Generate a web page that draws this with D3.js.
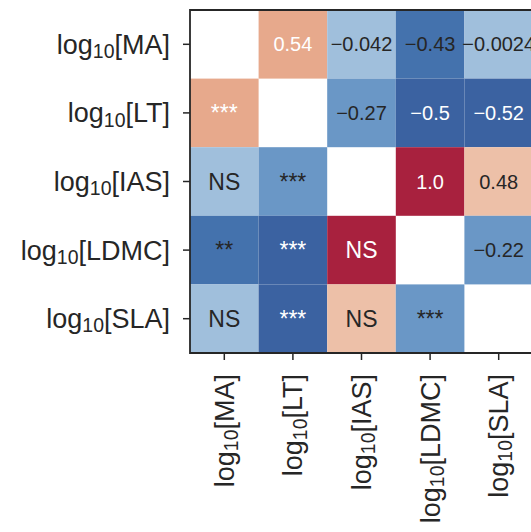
<!DOCTYPE html>
<html>
<head>
<meta charset="utf-8">
<script src="https://cdn.jsdelivr.net/npm/d3@7"></script>
<style>
  body { margin: 0; background: #fff; }
  text { font-family: "Liberation Sans", Arial, sans-serif; }
</style>
</head>
<body>
<script>
//traits on both axes
var traits = ["MA", "LT", "IAS", "LDMC", "SLA"];

//upper triangle: correlation coefficients, row by row
var corrRows = [
    [null, 0.54, -0.042, -0.43, -0.0024],
    [0.54, null, -0.27, -0.5, -0.52],
    [-0.042, -0.27, null, 1.0, 0.48],
    [-0.43, -0.5, 1.0, null, -0.22],
    [-0.0024, -0.52, 0.48, -0.22, null]
];

//lower triangle: significance labels
var sigRows = [
    [null, null, null, null, null],
    ["***", null, null, null, null],
    ["NS", "***", null, null, null],
    ["**", "***", "NS", null, null],
    ["NS", "***", "NS", "***", null]
];

//binned colours and the value breaks between them
var colorBreaks = [-0.45, -0.3, -0.1, 0, 0.5, 0.75];
var colorBins = ["#3b62a1", "#4472ad", "#6a97c6", "#a0bfdc", "#edc0a8", "#e7a98c", "#a8213e"];

var width = 531,
    height = 532;

var svg = d3.select("body")
    .append("svg")
    .attr("width", width)
    .attr("height", height);

var x = d3.scaleBand().domain(traits).range([190, 533]);
var y = d3.scaleBand().domain(traits).range([10, 353]);
var color = d3.scaleThreshold().domain(colorBreaks).range(colorBins);

//flatten the matrix into cells
var cells = [];
traits.forEach(function(r, i){
    traits.forEach(function(c, j){
        if (i == j) return;
        cells.push({row: r, col: c, value: corrRows[i][j], upper: j > i, sig: sigRows[i][j]});
    });
});

function fmt(v){
    if (v == 1) return "1.0";
    return String(v).replace("-", "\u2212");
}

svg.selectAll(".cell")
    .data(cells)
    .enter()
    .append("rect")
    .attr("class", "cell")
    .attr("x", function(d){ return x(d.col); })
    .attr("y", function(d){ return y(d.row); })
    .attr("width", x.bandwidth())
    .attr("height", y.bandwidth())
    .attr("fill", function(d){ return color(d.value); });

svg.selectAll(".annot")
    .data(cells)
    .enter()
    .append("text")
    .attr("class", "annot")
    .attr("x", function(d){ return x(d.col) + x.bandwidth() / 2; })
    .attr("y", function(d){ return y(d.row) + y.bandwidth() / 2; })
    .attr("text-anchor", "middle")
    .attr("dominant-baseline", "central")
    .attr("font-size", function(d){ return d.upper ? 20 : 23; })
    .attr("fill", function(d){ return Math.abs(d.value) >= 0.5 ? "#ffffff" : "#262626"; })
    .text(function(d){ return d.upper ? fmt(d.value) : d.sig; });

//axes
var yAxis = svg.append("g")
    .attr("transform", "translate(190,0)")
    .call(d3.axisLeft(y).tickSize(7).tickFormat(""));
var xAxis = svg.append("g")
    .attr("transform", "translate(0,353)")
    .call(d3.axisBottom(x).tickSize(7).tickFormat(""));

[yAxis, xAxis].forEach(function(g){
    g.select(".domain").remove();
    g.selectAll(".tick line").attr("stroke", "#262626").attr("stroke-width", 1.5);
});

//spines
svg.append("path")
    .attr("d", "M533,10H190V353H533")
    .attr("fill", "none")
    .attr("stroke", "#262626")
    .attr("stroke-width", 1.8);

function addLabel(sel, name){
    sel.append("tspan").text("log");
    sel.append("tspan").attr("font-size", "0.72em").attr("dy", "0.22em").text("10");
    sel.append("tspan").attr("dy", "-0.16em").text("[" + name + "]");
}

//y tick labels
traits.forEach(function(t){
    var lab = svg.append("text")
        .attr("x", 170)
        .attr("y", y(t) + y.bandwidth() / 2)
        .attr("text-anchor", "end")
        .attr("dy", "0.35em")
        .attr("font-size", 27)
        .attr("fill", "#262626");
    addLabel(lab, t);
});

//x tick labels, rotated
traits.forEach(function(t){
    var lab = svg.append("text")
        .attr("transform", "translate(" + (x(t) + x.bandwidth() / 2) + ",374) rotate(-90)")
        .attr("text-anchor", "end")
        .attr("dy", "0.35em")
        .attr("font-size", 27)
        .attr("fill", "#262626");
    addLabel(lab, t);
});
</script>
</body>
</html>
